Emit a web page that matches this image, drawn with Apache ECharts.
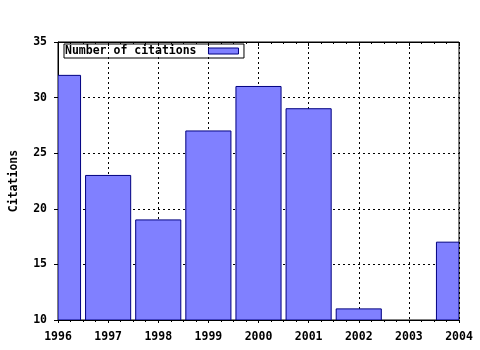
<!DOCTYPE html>
<html><head><meta charset="utf-8">
<script src="https://cdn.jsdelivr.net/npm/echarts@6/dist/echarts.min.js"></script>
<style>html,body{margin:0;padding:0;background:#fff}#c{width:480px;height:350px}</style>
</head><body><div id="c"></div>
<script>
var years = [1996, 1997, 1998, 1999, 2000, 2001, 2002, 2003, 2004];
var citations = [32, 23, 19, 27, 31, 29, 11, 10, 17];
var seriesName = 'Number of citations';
var yTitle = 'Citations';

var FONT = '"DejaVu Sans Mono", monospace';
var chart = echarts.init(document.getElementById('c'), null, {renderer: 'canvas'});
var data = years.map(function (y, i) { return [y, citations[i]]; });
var BOXW = 0.9;
var grid = {left: 57, top: 42, right: 21, bottom: 30, show: true, borderColor: '#000', borderWidth: 1, backgroundColor: 'transparent'};
var splitDash = {show: true, lineStyle: {color: '#000', width: 1, type: [2, 3]}};
chart.setOption({
  animation: false,
  grid: grid,
  legend: {
    data: [seriesName], left: 64, top: 44, align: 'right', orient: 'horizontal',
    borderColor: '#000', borderWidth: 1, padding: [1, 5, 1, 1],
    itemWidth: 30, itemHeight: 6, icon: 'rect',
    itemStyle: {color: '#8080ff', borderColor: '#000080', borderWidth: 1},
    formatter: function (n) { return n + ' '; },
    textStyle: {fontFamily: FONT, fontWeight: 'bold', fontSize: 11.5, color: '#000'}
  },
  xAxis: [{
    type: 'value', min: 1996, max: 2004, interval: 1, position: 'bottom',
    axisLine: {show: true, lineStyle: {color: '#000'}},
    axisTick: {show: true, inside: false, length: 3, lineStyle: {color: '#000'}},
    minorTick: {show: true, splitNumber: 4, length: 2, lineStyle: {color: '#000'}},
    axisLabel: {fontFamily: FONT, fontWeight: 'bold', fontSize: 11.5, color: '#000', margin: 11,
      formatter: function (v) { return String(v); }},
    splitLine: splitDash
  }, {
    type: 'value', min: 1996, max: 2004, interval: 1, position: 'top',
    axisLine: {show: true, lineStyle: {color: '#000'}},
    axisTick: {show: true, inside: true, length: 4, lineStyle: {color: '#000'}},
    minorTick: {show: true, splitNumber: 4, length: 2, lineStyle: {color: '#000'}},
    axisLabel: {show: false}, splitLine: {show: false}
  }],
  yAxis: {
    type: 'value', min: 10, max: 35, interval: 5,
    name: yTitle, nameLocation: 'middle', nameGap: 38, nameRotate: 90,
    nameTextStyle: {fontFamily: FONT, fontWeight: 'bold', fontSize: 11.5, color: '#000'},
    axisLine: {show: true, lineStyle: {color: '#000'}},
    axisTick: {show: true, inside: false, length: 4, lineStyle: {color: '#000'}},
    axisLabel: {fontFamily: FONT, fontWeight: 'bold', fontSize: 11.5, color: '#000', margin: 11},
    splitLine: splitDash
  },
  series: [{
    name: seriesName, type: 'custom', clip: true,
    itemStyle: {color: '#8080ff', borderColor: '#000080', borderWidth: 1},
    encode: {x: 0, y: 1},
    renderItem: function (params, api) {
      var x = api.value(0), v = api.value(1);
      var p1 = api.coord([x - BOXW / 2, v]);
      var p2 = api.coord([x + BOXW / 2, 10]);
      var rect = {x: p1[0], y: p1[1], width: p2[0] - p1[0], height: p2[1] - p1[1]};
      var clipped = echarts.graphic.clipRectByRect(rect, {
        x: params.coordSys.x, y: params.coordSys.y, width: params.coordSys.width, height: params.coordSys.height});
      if (!clipped || clipped.height <= 0) return null;
      return {type: 'rect', shape: clipped,
        style: {fill: '#8080ff', stroke: '#000080', lineWidth: 1}};
    },
    data: data
  }]
});
</script></body></html>
